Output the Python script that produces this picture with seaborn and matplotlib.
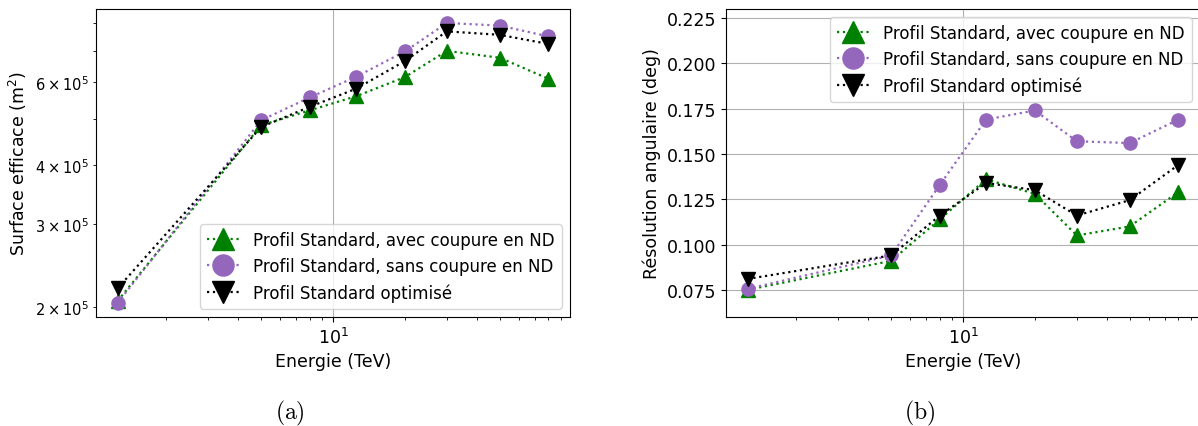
"""
Performance comparison plots: effective area and angular resolution vs energy
"""

import matplotlib.pyplot as plt
import seaborn as sns
import pandas as pd
import numpy as np

# Energy bins (TeV)
energy = [1.25, 5, 8, 12.5, 20, 30, 50, 80]

# Effective area (m^2)
surf_avec = [2.06e5, 4.86e5, 5.23e5, 5.60e5, 6.15e5, 6.99e5, 6.76e5, 6.10e5]
surf_sans = [2.04e5, 4.98e5, 5.57e5, 6.16e5, 6.97e5, 8.01e5, 7.91e5, 7.50e5]
surf_opt = [2.19e5, 4.82e5, 5.32e5, 5.81e5, 6.65e5, 7.69e5, 7.56e5, 7.23e5]

# Angular resolution (deg)
res_avec = [0.075, 0.091, 0.114, 0.136, 0.128, 0.105, 0.110, 0.129]
res_sans = [0.0755, 0.094, 0.133, 0.169, 0.174, 0.157, 0.156, 0.169]
res_opt = [0.081, 0.094, 0.116, 0.134, 0.130, 0.116, 0.1245, 0.144]

labels = ['Profil Standard, avec coupure en ND',
          'Profil Standard, sans coupure en ND',
          'Profil Standard optimisé']
colors = ['green', '#9467bd', 'black']
markers = ['^', 'o', 'v']

FS = 12.5
plt.rcParams['font.size'] = FS
plt.rcParams['mathtext.fontset'] = 'dejavusans'


def draw_series(ax, series):
    """Plot the three profiles on one axis."""
    for vals, lab, col, mk in zip(series, labels, colors, markers):
        df = pd.DataFrame({'energy': energy, 'value': vals})
        sns.lineplot(data=df, x='energy', y='value', ax=ax, color=col,
                     linestyle=':', linewidth=1.6, marker=mk, markersize=9.5,
                     markeredgecolor=col, markeredgewidth=1, label=lab)
    ax.set_xscale('log')
    ax.set_xlabel('Energie (TeV)', fontsize=FS)
    ax.tick_params(labelsize=FS)
    ax.grid(True, which='major', color='#b0b0b0', linewidth=0.8)


fig = plt.figure(figsize=(11.98, 4.27), dpi=100)
ax1 = fig.add_axes([96 / 1198, 109 / 427, 474 / 1198, 308 / 427])
ax2 = fig.add_axes([726 / 1198, 109 / 427, 474 / 1198, 308 / 427])

# (a) effective area
draw_series(ax1, [surf_avec, surf_sans, surf_opt])
ax1.set_yscale('log')
ax1.set_ylabel('Surface efficace (m$^2$)', fontsize=FS)
ax1.tick_params(axis='y', which='minor', labelsize=10.5)
ax1.legend(loc='lower right', fontsize=12, markerscale=1.6)

# (b) angular resolution
draw_series(ax2, [res_avec, res_sans, res_opt])
ax2.set_ylim(0.06, 0.23)
ax2.set_yticks(np.arange(0.075, 0.2251, 0.025))
ax2.set_ylabel('Résolution angulaire (deg)', fontsize=FS)
ax2.legend(loc='upper right', fontsize=12, markerscale=1.6)

# Sub-figure captions
fig.text(290 / 1198, 1 - 413 / 427, r'$\mathrm{(a)}$', ha='center',
         va='center', fontsize=17, math_fontfamily='cm')
fig.text(920 / 1198, 1 - 413 / 427, r'$\mathrm{(b)}$', ha='center',
         va='center', fontsize=17, math_fontfamily='cm')

fig.savefig('out.png', dpi=100)
